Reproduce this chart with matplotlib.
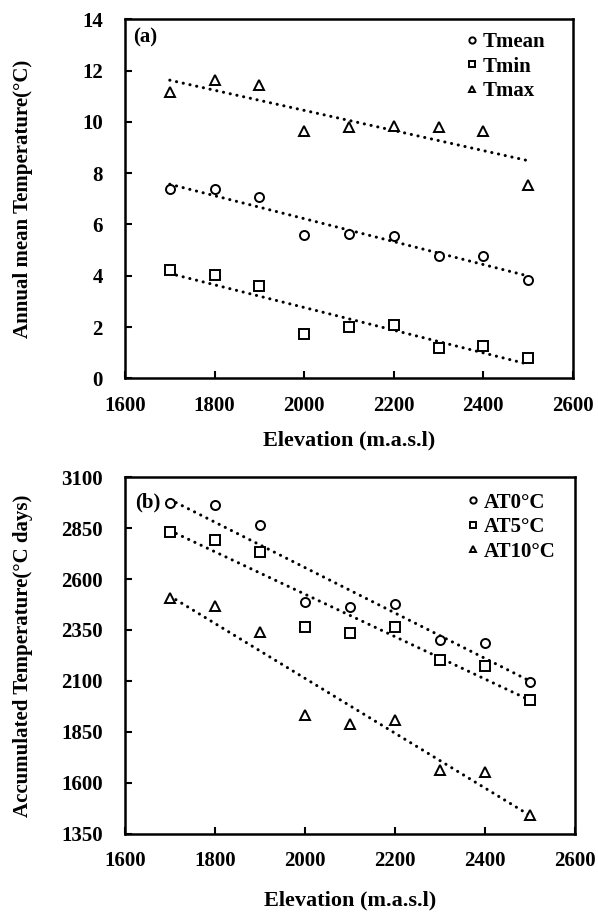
import matplotlib
matplotlib.use("Agg")
import matplotlib.pyplot as plt
import numpy as np

plt.rc("font", family="serif", serif=["Liberation Serif", "DejaVu Serif"], weight="bold", size=15)
plt.rc("axes", labelweight="bold", linewidth=1.8)

elev = [1700, 1800, 1900, 2000, 2100, 2200, 2300, 2400, 2500]

# panel (a): annual mean temperatures, deg C
t_mean = [7.40, 7.40, 7.07, 5.58, 5.64, 5.55, 4.77, 4.77, 3.82]
t_min = [4.21, 4.04, 3.59, 1.74, 2.00, 2.07, 1.18, 1.25, 0.79]
t_max = [11.17, 11.62, 11.45, 9.63, 9.80, 9.84, 9.80, 9.63, 7.55]

# panel (b): accumulated temperature, deg C days
at0 = [2972, 2964, 2863, 2486, 2465, 2475, 2302, 2285, 2094]
at5 = [2833, 2793, 2732, 2364, 2334, 2364, 2200, 2171, 2004]
at10 = [2506, 2470, 2339, 1930, 1890, 1909, 1664, 1652, 1443]

markers = ["o", "s", "^"]


def panel(ax, series, names, tag, ylim, yticks, ylabel, tag_pos, leg_pos, xlab_y):
    x = np.array(elev)
    for y, name, m in zip(series, names, markers):
        ax.plot(x, y, m, ms=6.5, mfc="white", mec="black", mew=1.4, label=name, zorder=3)
        # linear trend through each series
        k, b = np.polyfit(x, y, 1)
        ax.plot(x, k * x + b, color="black", lw=2.2, linestyle=(0, (0.05, 2.2)),
                dash_capstyle="round", zorder=2)
    ax.set_xlim(1600, 2600)
    ax.set_xticks(range(1600, 2601, 200))
    ax.set_ylim(*ylim)
    ax.set_yticks(yticks)
    ax.tick_params(direction="in", length=5, width=1.5, top=False, right=False)
    ax.tick_params(axis="x", pad=12.5)
    ax.tick_params(axis="y", pad=16)
    ax.set_xlabel("Elevation (m.a.s.l)", fontsize=16)
    ax.xaxis.set_label_coords(0.5, xlab_y)
    ax.set_ylabel(ylabel, fontsize=15)
    ax.yaxis.set_label_coords(-0.205, 0.5)
    ax.text(tag_pos[0], tag_pos[1], tag, transform=ax.transAxes, va="top", ha="left", fontsize=15)
    leg = ax.legend(loc="upper left", bbox_to_anchor=leg_pos, frameon=False, markerscale=0.7,
                    handlelength=0.4, handletextpad=0.33, labelspacing=0.22,
                    borderpad=0, borderaxespad=0, fontsize=15)
    for t in leg.get_texts():
        t.set_fontweight("bold")


fig = plt.figure(figsize=(5.98, 9.16), dpi=100)
ax1 = fig.add_axes([0.209, 0.587, 0.749, 0.392])
ax2 = fig.add_axes([0.209, 0.090, 0.752, 0.389])

panel(ax1, [t_mean, t_min, t_max], ["Tmean", "Tmin", "Tmax"], "(a)",
      (0, 14), range(0, 15, 2), "Annual mean Temperature(°C)",
      (0.018, 0.978), (0.765, 0.964), -0.145)
panel(ax2, [at0, at5, at10], ["AT0°C", "AT5°C", "AT10°C"], "(b)",
      (1350, 3100), range(1350, 3101, 250), "Accumulated Temperature(°C days)",
      (0.022, 0.957), (0.764, 0.957), -0.159)

fig.savefig("out.png", dpi=100)
